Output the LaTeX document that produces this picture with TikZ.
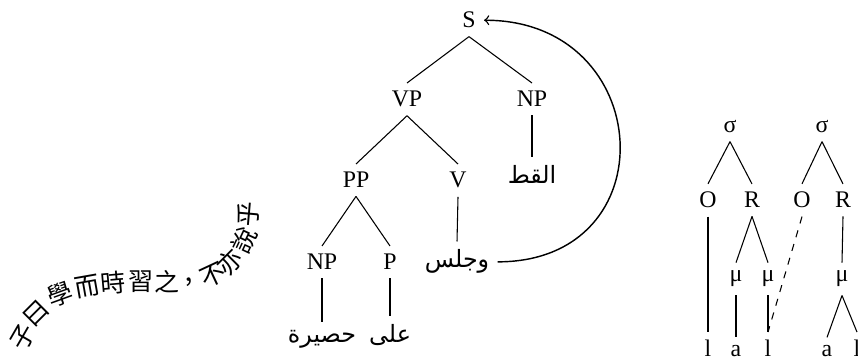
\documentclass[tikz,border=0pt]{standalone}
\usepackage{fontspec}
\setmainfont{Liberation Serif}
\newfontfamily\cjk{Noto Sans CJK TC}
\newfontfamily\cjksc{Noto Sans CJK SC}
\newfontfamily\arabicfont[Script=Arabic]{DejaVu Sans}
\TeXXeTstate=1
\newcommand{\arw}[1]{{\arabicfont\beginR #1\endR}}
\begin{document}
\begin{tikzpicture}[x=0.42pt,y=-0.42pt,
  every node/.style={font=\fontsize{10}{12}\selectfont},
  w/.style={anchor=base},
  link/.style={line width=0.45pt},
  cj/.style={font=\fontsize{10.5}{12}\selectfont\cjk, inner sep=0pt, anchor=center}]
\useasboundingbox (0,0) rectangle (858,360);
% main tree
\node[w] (S) at (469,28) {S};
\node[w] (VP) at (407,107) {VP};
\node[w] (NPa) at (532,107) {NP};
\node[w] (PP) at (356,188) {PP};
\node[w] (V) at (458,188) {V};
\node[w] (qt) at (532,184) {\arw{القط}};
\node[w] (NPb) at (322,270) {NP};
\node[w] (P) at (390,270) {P};
\node[w] (jls) at (457,268) {\arw{وجلس}};
\node[w] (hsr) at (322,343) {\arw{حصيرة}};
\node[w] (ala) at (390,343) {\arw{على}};
\draw[link] (S.south) -- (VP.north);
\draw[link] (S.south) -- (NPa.north);
\draw[link] (NPa.south) -- (qt.north);
\draw[link] (VP.south) -- (PP.north);
\draw[link] (VP.south) -- (V.north);
\draw[link] (V.south) -- (jls.north);
\draw[link] (PP.south) -- (NPb.north);
\draw[link] (PP.south) -- (P.north);
\draw[link] (NPb.south) -- (hsr.north);
\draw[link] (P.south) -- (ala.north);
\draw[line width=0.6pt,->] (jls.east) .. controls +(172,0) and +(172,0) .. (S.east);
% syllable trees
\node[w] (s1) at (730,133) {σ};
\node[w] (s2) at (822,133) {σ};
\node[w] (O1) at (708,208) {O};
\node[w] (R1) at (752,208) {R};
\node[w] (O2) at (802,208) {O};
\node[w] (R2) at (843,208) {R};
\node[w] (m1) at (736,282) {μ};
\node[w] (m2) at (768,282) {μ};
\node[w] (m3) at (842,282) {μ};
\node[w] (l1) at (708,357) {l};
\node[w] (a1) at (736,357) {a};
\node[w] (l2) at (768,357) {l};
\node[w] (a2) at (827,357) {a};
\node[w] (l3) at (857,357) {l};
\draw[link] (s1.south) -- (O1.north);
\draw[link] (s1.south) -- (R1.north);
\draw[link] (s2.south) -- (O2.north);
\draw[link] (s2.south) -- (R2.north);
\draw[link] (O1.south) -- (l1.north);
\draw[link] (R1.south) -- (m1.north);
\draw[link] (R1.south) -- (m2.north);
\draw[link] (m1.south) -- (a1.north);
\draw[link] (m2.south) -- (l2.north);
\draw[link,dashed] (O2.south) -- (l2.north);
\draw[link] (R2.south) -- (m3.north);
\draw[link] (m3.south) -- (a2.north);
\draw[link] (m3.south) -- (l3.north);
% Chinese text along a curve
\foreach \ch/\px/\py/\rot [count=\i] in {子/23/337/60, 曰/36/314/45, 學/60/294/20, 而/87/287/10, 時/113/283/5, 習/141/282/0, 之/167/282/0, {\cjksc ，}/196/281/8, 不/213/275/25, 亦/230/262/45, 說/244/240/65, 乎/248/214/85}
  \node[cj, rotate=\rot] (c\i) at (\px,\py) {\ch};
\end{tikzpicture}
\end{document}
